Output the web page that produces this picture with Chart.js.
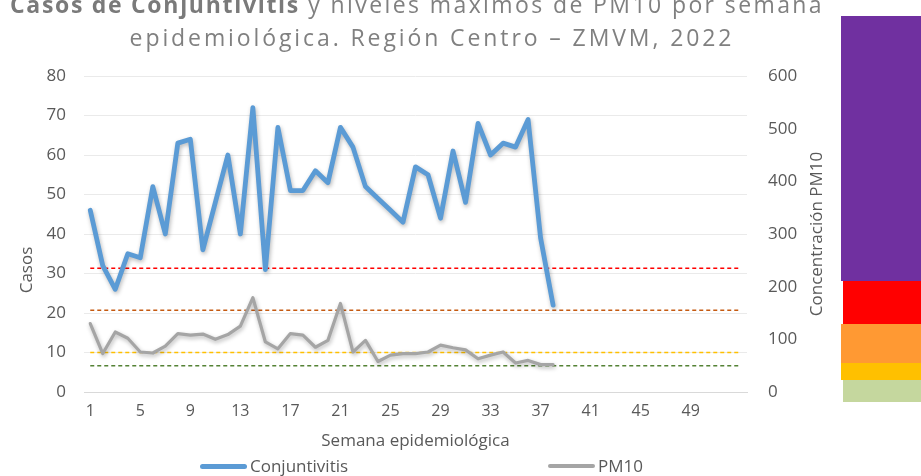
<!DOCTYPE html>
<html>
<head>
<meta charset="utf-8">
<script src="https://cdn.jsdelivr.net/npm/chart.js@4/dist/chart.umd.min.js"></script>
<style>
  html, body { margin: 0; padding: 0; background: #fff; }
  #wrap { position: relative; width: 921px; height: 476px; overflow: hidden; font-family: 'Open Sans', sans-serif; }
  #chart { position: absolute; left: 0; top: 0; }
  .title { position: absolute; white-space: nowrap; color: #808080; font-size: 23px; transform: translateX(-50%); line-height: 1; }
  .title b { color: #7a7a7a; letter-spacing: 1.7px; }
  .title span { letter-spacing: 2.4px; }
  .band { position: absolute; }
  .leg { position: absolute; top: 454px; font-size: 17px; color: #595959; white-space: nowrap; }
  .leg i { display: inline-block; width: 47px; height: 5px; border-radius: 3px; vertical-align: middle; margin-right: 3px; position: relative; top: -1px; }
</style>
</head>
<body>
<div id="wrap">
  <canvas id="chart" width="921" height="476"></canvas>
  <div class="title" style="left:417px; top:-7px;"><b>Casos de Conjuntivitis</b><span> y niveles máximos de PM10 por semana</span></div>
  <div class="title" style="left:432px; top:26px; letter-spacing:2.9px;">epidemiológica. Región Centro – ZMVM, 2022</div>

  <div class="band" style="left:841px; top:16px;  width:80px; height:265px; background:#7030A0;"></div>
  <div class="band" style="left:843px; top:281px; width:78px; height:43px;  background:#FF0000;"></div>
  <div class="band" style="left:841px; top:324px; width:80px; height:39px;  background:#FF9933;"></div>
  <div class="band" style="left:841px; top:363px; width:80px; height:17px;  background:#FFC000;"></div>
  <div class="band" style="left:843px; top:380px; width:78px; height:22px;  background:#C5D79E;"></div>

  <div class="leg" style="left:200px;"><i style="background:#5B9BD5"></i>Conjuntivitis</div>
  <div class="leg" style="left:548px;"><i style="background:#A5A5A5; height:4px"></i>PM10</div>
</div>
<script>
// semanas epidemiológicas 1..53
const weeks = ['1','2','3','4','5','6','7','8','9','10','11','12','13','14','15','16','17','18','19','20',
  '21','22','23','24','25','26','27','28','29','30','31','32','33','34','35','36','37','38','39','40',
  '41','42','43','44','45','46','47','48','49','50','51','52','53'];

// casos de conjuntivitis (eje izquierdo)
const conjuntivitis = [46, 32, 26, 35, 34, 52, 40, 63, 64, 36, 48, 60, 40, 72, 31, 67, 51, 51, 56, 53,
  67, 62, 52, 49, 46, 43, 57, 55, 44, 61, 48, 68, 60, 63, 62, 69, 39, 22];

// PM10 máximo semanal (eje derecho)
const pm10 = [130, 73, 114, 102, 76, 74, 87, 111, 108, 110, 100, 109, 125, 179, 95, 82, 111, 108, 85, 98,
  168, 76, 98, 58, 70, 73, 73, 76, 89, 84, 80, 63, 70, 76, 55, 60, 52, 52];

// umbrales de calidad del aire PM10
const thresholds = [
  { value: 235, color: '#FF0000' },
  { value: 155, color: '#C55A11' },
  { value: 75,  color: '#FFC000' },
  { value: 50,  color: '#548235' },
];

const leftTicks = { min: 0, max: 80, step: 10 };
const rightTicks = { min: 0, max: 600, step: 100 };

const TEXT = '#595959';
const FONT = "'Open Sans', sans-serif";

const lineShadow = {
  id: 'lineShadow',
  beforeDatasetDraw(chart, args) {
    if (args.index > 1) return;
    const ctx = chart.ctx;
    ctx.save();
    ctx.shadowColor = 'rgba(0,0,0,0.28)';
    ctx.shadowBlur = 4;
    ctx.shadowOffsetX = 1;
    ctx.shadowOffsetY = 2;
  },
  afterDatasetDraw(chart, args) {
    if (args.index > 1) return;
    chart.ctx.restore();
  },
};

const axisTitles = {
  id: 'axisTitles',
  afterDraw(chart) {
    const ctx = chart.ctx;
    ctx.save();
    ctx.fillStyle = TEXT;
    ctx.font = `17px ${FONT}`;
    ctx.textAlign = 'center';
    ctx.textBaseline = 'middle';
    ctx.fillText('Semana epidemiológica', (chart.chartArea.left + chart.chartArea.right) / 2, 441);
    ctx.translate(27, 270);
    ctx.rotate(-Math.PI / 2);
    ctx.fillText('Casos', 0, 0);
    ctx.restore();
    ctx.save();
    ctx.fillStyle = TEXT;
    ctx.font = `17px ${FONT}`;
    ctx.textAlign = 'center';
    ctx.textBaseline = 'middle';
    ctx.translate(817, (chart.chartArea.top + chart.chartArea.bottom) / 2);
    ctx.rotate(-Math.PI / 2);
    ctx.fillText('Concentración PM10', 0, 0);
    ctx.restore();
  },
};

const datasets = [
  {
    label: 'Conjuntivitis',
    data: conjuntivitis,
    yAxisID: 'y',
    borderColor: '#5B9BD5',
    borderWidth: 4.8,
    borderJoinStyle: 'round',
    borderCapStyle: 'round',
    pointRadius: 0,
    tension: 0,
  },
  {
    label: 'PM10',
    data: pm10,
    yAxisID: 'y2',
    borderColor: '#A5A5A5',
    borderWidth: 3.2,
    borderJoinStyle: 'round',
    borderCapStyle: 'round',
    pointRadius: 0,
    tension: 0,
  },
  ...thresholds.map((t) => ({
    label: 'umbral ' + t.value,
    data: weeks.map(() => t.value),
    yAxisID: 'y2',
    borderColor: t.color,
    borderWidth: 1.5,
    borderDash: [4, 3],
    pointRadius: 0,
  })),
];

new Chart(document.getElementById('chart'), {
  type: 'line',
  data: { labels: weeks, datasets },
  plugins: [lineShadow, axisTitles],
  options: {
    responsive: false,
    animation: false,
    layout: { padding: { top: 76, left: 0, right: 0, bottom: 0 } },
    plugins: { legend: { display: false }, tooltip: { enabled: false } },
    scales: {
      x: {
        offset: true,
        grid: { display: false, drawTicks: false },
        border: { display: true, color: '#D9D9D9', width: 1 },
        ticks: {
          autoSkip: false, maxRotation: 0, padding: 10, color: TEXT,
          font: { family: FONT, size: 16 },
          callback: (v, i) => (i % 4 === 0 && i < 52 ? weeks[i] : ''),
        },
        afterFit: (s) => { s.height = 84; },
      },
      y: {
        position: 'left',
        min: leftTicks.min, max: leftTicks.max,
        grid: { color: '#EAEAEA', lineWidth: 1, drawTicks: false },
        border: { display: false },
        ticks: { stepSize: leftTicks.step, padding: 18, color: TEXT, font: { family: FONT, size: 17 } },
        afterFit: (s) => { s.width = 84; },
      },
      y2: {
        position: 'right',
        min: rightTicks.min, max: rightTicks.max,
        grid: { display: false, drawTicks: false },
        border: { display: false },
        ticks: { stepSize: rightTicks.step, padding: 21, color: TEXT, font: { family: FONT, size: 17 } },
        afterFit: (s) => { s.width = 174; },
      },
    },
  },
});
</script>
</body>
</html>
